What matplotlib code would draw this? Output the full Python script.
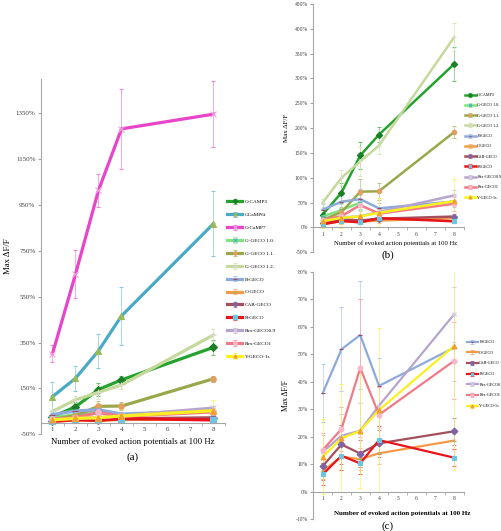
import numpy as np
import matplotlib
matplotlib.use("Agg")
import matplotlib.pyplot as plt
from matplotlib.colors import to_rgb

plt.rcParams["font.family"] = ["Liberation Serif", "DejaVu Serif"]

# evoked action potentials (x) and category tick labels
aps = [1, 2, 3, 4, 8]
x_ticks = [1, 2, 3, 4, 5, 6, 7, 8]

# max dF/F in percent
gcamp3 = [26, 70, 145, 187, 329]
gcamp6f = [114, 194, 314, 466, 868]
gcamp7 = [301, 648, 1013, 1281, 1345]
ggeco10 = [22, 35, 50, np.nan, np.nan]
ggeco11 = [15, 31, 72, 73, 192]
ggeco12 = [50, 100, 133, 165, 383]
bgeco = [35.8, 51.8, 57.0, 38.5, 52.4]
ogeco = [7.5, 12.8, 11.8, 14.0, 18.6]
cargeco = [9.3, 17.2, 13.9, 17.6, 22.0]
rgeco = [6.3, 13.1, 10.3, 18.8, 12.4]
rexgeco09 = [14.5, 20.4, 22.2, 31.3, 64.5]
rexgeco1 = [15.2, 22.8, 45.0, 28.0, 47.6]
ygeco1s = [12.7, 19.4, 22.2, 29.7, 53.0]

# error bars (+/-)
gcamp3_err = [12, 20, 28, 15, 34]
gcamp6f_err = [62, 55, 75, 128, 143]
gcamp7_err = [38, 105, 73, 173, 145]
ggeco10_err = [10, 12, 15, np.nan, np.nan]
ggeco11_err = [8, 10, 25, 17, 12]
ggeco12_err = [8, 15, 30, 18, 28]
bgeco_err = [10.5, 15.2, 19.6, 10, 12]
ogeco_err = [3, 5, 4, 4, 3]
cargeco_err = [5, 7, 5, 5, 5]
rgeco_err = [4, 5, 4, 5, 3]
rexgeco09_err = [6, 8, 10, 8, 10]
rexgeco1_err = [6, 8, 25, 10, 14]
ygeco1s_err = [13.6, 19.6, 21, 29.7, 45]

series = {
    "G-CAMP3": (gcamp3, gcamp3_err),
    "GCaMP6f": (gcamp6f, gcamp6f_err),
    "G-CaMP7": (gcamp7, gcamp7_err),
    "G-GECO 1.0.": (ggeco10, ggeco10_err),
    "G-GECO 1.1.": (ggeco11, ggeco11_err),
    "G-GECO 1.2.": (ggeco12, ggeco12_err),
    "B-GECO": (bgeco, bgeco_err),
    "O-GECO": (ogeco, ogeco_err),
    "CAR-GECO": (cargeco, cargeco_err),
    "R-GECO": (rgeco, rgeco_err),
    "Rex-GECO0.9": (rexgeco09, rexgeco09_err),
    "Rex-GECO1": (rexgeco1, rexgeco1_err),
    "Y-GECO-1s": (ygeco1s, ygeco1s_err),
}

# line colour, marker, marker colour
styles = {
    "G-CAMP3": ("#23a32e", "D", "#1b7f25"),
    "GCaMP6f": ("#4aaac6", "^", "#9bbb59"),
    "G-CaMP7": ("#e845c8", "x", "#f0a8dc"),
    "G-GECO 1.0.": ("#7fe27f", "x", "#4bacc6"),
    "G-GECO 1.1.": ("#9aa84c", "o", "#e0a060"),
    "G-GECO 1.2.": ("#c6d99c", "+", "#d8dcc8"),
    "B-GECO": ("#8eaadb", "_", "#a04a6a"),
    "O-GECO": ("#f49a48", "_", "#9bbb59"),
    "CAR-GECO": ("#a4505c", "D", "#8064a2"),
    "R-GECO": ("#e8141c", "s", "#6cc6e2"),
    "Rex-GECO0.9": ("#b6a4cc", "x", "#d8d0e0"),
    "Rex-GECO1": ("#f07a86", "o", "#f6b8c8"),
    "Y-GECO-1s": ("#f8f020", "^", "#f0a030"),
}

W, H = 502, 531
fig = plt.figure(figsize=(W / 100, H / 100), dpi=100)


def px_axes(x0, x1, y_top, y_bot):
    return fig.add_axes([x0 / W, 1 - y_bot / H, (x1 - x0) / W, (y_bot - y_top) / H])


def lighter(c, f=0.35):
    r, g, b = to_rgb(c)
    return (r + (1 - r) * f, g + (1 - g) * f, b + (1 - b) * f)


def draw(ax, names, ylo, yhi, step, lw, ms, tfs):
    for n in names:
        vals, err = series[n]
        col, mk, mcol = styles[n]
        ax.errorbar(aps, vals, yerr=err, color=col, lw=lw, marker=mk,
                    ms=ms, mfc=mcol, mec=mcol, mew=0.8,
                    ecolor=lighter(col), elinewidth=0.5, capsize=1.5, capthick=0.5,
                    label=n)
    ax.set_xlim(0.5, 8.5)
    ax.set_ylim(ylo, yhi)
    ticks = np.arange(ylo, yhi + 0.1, step)
    ax.set_yticks(ticks)
    ax.set_yticklabels([f"{int(v)}%" for v in ticks])
    ax.set_xticks(x_ticks)
    ax.set_xticklabels([str(t) for t in x_ticks])
    ax.set_xticks(np.arange(0.5, 8.6, 1), minor=True)
    ax.spines["bottom"].set_position(("data", 0))
    for s in ["top", "right"]:
        ax.spines[s].set_visible(False)
    for s in ["left", "bottom"]:
        ax.spines[s].set_color("#a6a6a6")
        ax.spines[s].set_linewidth(0.8)
    ax.tick_params(axis="y", length=2, color="#a6a6a6", labelsize=tfs, labelcolor="#404040", pad=2)
    ax.tick_params(axis="x", which="major", length=0, labelsize=tfs, labelcolor="#404040", pad=3)
    ax.tick_params(axis="x", which="minor", length=2, color="#a6a6a6")
    ax.patch.set_alpha(0)


# (a)
ax_a = px_axes(41, 225, 78.6, 434.3)
draw(ax_a, list(series.keys()), -50, 1500, 200, 2.3, 4, 5.0)
ax_a.set_ylabel("Max ΔF/F", fontsize=6.3, labelpad=3)
fig.text(133 / W, 1 - 442 / H, "Number of evoked action potentials at 100 Hz",
         ha="center", va="center", fontsize=6.3)
fig.text(133 / W, 1 - 457 / H, "(a)", ha="center", va="center", fontsize=8)
ax_a.legend(loc="upper left", bbox_to_anchor=(224 / W, 1 - 197 / H),
            bbox_transform=fig.transFigure, frameon=False, fontsize=3.8,
            handlelength=3.0, handletextpad=0.5, labelspacing=1.55, borderpad=0,
            markerscale=0.6)

# (b)
names_b = [n for n in series if n not in ("GCaMP6f", "G-CaMP7")]
ax_b = px_axes(313.3, 463.5, 4, 252.3)
draw(ax_b, names_b, -50, 450, 50, 1.8, 3.2, 4.0)
ax_b.set_ylabel("Max ΔF/F", fontsize=5, labelpad=4)
fig.text(396 / W, 1 - 243 / H, "Number of evoked action potentials at 100 Hz",
         ha="center", va="center", fontsize=4.8)
fig.text(388 / W, 1 - 255 / H, "(b)", ha="center", va="center", fontsize=8)
ax_b.legend(loc="upper left", bbox_to_anchor=(463 / W, 1 - 91 / H),
            bbox_transform=fig.transFigure, frameon=False, fontsize=3.0,
            handlelength=2.6, handletextpad=0.35, labelspacing=1.5, borderpad=0,
            markerscale=0.6)

# (c)
names_c = ["B-GECO", "O-GECO", "CAR-GECO", "R-GECO", "Rex-GECO0.9", "Rex-GECO1", "Y-GECO-1s"]
ax_c = px_axes(313.3, 463.5, 271.7, 519.3)
draw(ax_c, names_c, -10, 80, 10, 1.6, 3.5, 4.0)
ax_c.set_ylabel("Max ΔF/F", fontsize=5.5, labelpad=4)
fig.text(402 / W, 1 - 513 / H, "Number of evoked action potentials at 100 Hz",
         ha="center", va="center", fontsize=5, fontweight="bold")
fig.text(388 / W, 1 - 526 / H, "(c)", ha="center", va="center", fontsize=8)
ax_c.legend(loc="upper left", bbox_to_anchor=(465 / W, 1 - 338 / H),
            bbox_transform=fig.transFigure, frameon=False, fontsize=3.0,
            handlelength=2.6, handletextpad=0.35, labelspacing=1.6, borderpad=0,
            markerscale=0.6)

fig.savefig("out.png", dpi=100)
